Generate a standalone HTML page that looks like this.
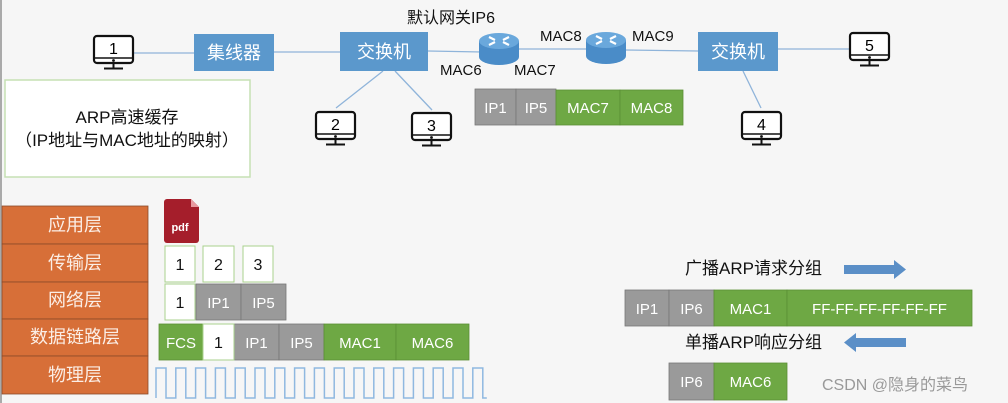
<!DOCTYPE html>
<html><head><meta charset="utf-8"><style>
html,body{margin:0;padding:0;background:#f6f6f6;}
svg{display:block;font-family:"Liberation Sans","Noto Sans CJK SC",sans-serif;}
</style></head><body>
<svg width="1008" height="403" viewBox="0 0 1008 403" xmlns="http://www.w3.org/2000/svg">
<defs>
<g id="pc">
  <rect x="0" y="0" width="39" height="27" rx="3" fill="#fff" stroke="#111" stroke-width="2.2"/>
  <line x1="1" y1="22" x2="38" y2="22" stroke="#111" stroke-width="1.5"/>
  <circle cx="19.5" cy="24.5" r="1.4" fill="#111"/>
  <line x1="19.5" y1="27" x2="19.5" y2="32" stroke="#111" stroke-width="2"/>
  <line x1="10" y1="32.5" x2="29" y2="32.5" stroke="#111" stroke-width="2"/>
</g>
<g id="router">
  <path d="M0 8 v16 a20 8 0 0 0 40 0 v-16 z" fill="#4a8cc8"/>
  <ellipse cx="20" cy="8" rx="20" ry="8" fill="#6aa8dc"/>
  <path d="M10 4 l6 3 M30 4 l-6 3 M10 12 l6 -3 M30 12 l-6 -3" stroke="#fff" stroke-width="2.2"/>
</g>
</defs>
<rect x="0" y="0" width="2" height="403" fill="#aaa"/>
<g stroke="#8fb4da" stroke-width="1.3">
<line x1="133" y1="53" x2="194" y2="53"/>
<line x1="274" y1="52" x2="340" y2="52"/>
<line x1="428" y1="51" x2="482" y2="52"/>
<line x1="518" y1="49" x2="588" y2="49"/>
<line x1="624" y1="50" x2="698" y2="51"/>
<line x1="778" y1="49" x2="851" y2="49"/>
<line x1="383" y1="71" x2="336" y2="108"/>
<line x1="395" y1="71" x2="432" y2="110"/>
<line x1="743" y1="71" x2="761" y2="108"/>
</g>
<g font-size="16" text-anchor="middle">
<use href="#pc" x="94" y="36"/><text x="113.5" y="54">1</text>
<use href="#pc" x="316" y="112"/><text x="335.5" y="130">2</text>
<use href="#pc" x="412" y="113"/><text x="431.5" y="131">3</text>
<use href="#pc" x="742" y="112"/><text x="761.5" y="130">4</text>
<use href="#pc" x="850" y="33"/><text x="869.5" y="51">5</text>
</g>
<g fill="#5b98cc">
<rect x="194" y="34" width="80" height="37"/>
<rect x="340" y="32" width="88" height="39"/>
<rect x="698" y="32" width="80" height="39"/>
</g>
<g fill="#fff" font-size="18" text-anchor="middle">
<text x="234" y="59">集线器</text>
<text x="384" y="58">交换机</text>
<text x="738" y="58">交换机</text>
</g>
<use href="#router" x="479" y="33"/>
<use href="#router" x="586" y="32"/>
<g font-size="15" fill="#111">
<text x="451" y="23" text-anchor="middle" font-size="16">默认网关IP6</text>
<text x="440" y="75">MAC6</text>
<text x="514" y="75">MAC7</text>
<text x="540" y="41">MAC8</text>
<text x="632" y="41">MAC9</text>
</g>
<g stroke="#777" stroke-width="0.8">
<rect x="475" y="89" width="41" height="36" fill="#9a9a9a"/>
<rect x="516" y="89" width="40" height="36" fill="#9a9a9a"/>
<rect x="556" y="90" width="64" height="35" fill="#6ea844" stroke="#5a8f35"/>
<rect x="620" y="90" width="63" height="35" fill="#6ea844" stroke="#5a8f35"/>
</g>
<g fill="#fff" font-size="15" text-anchor="middle">
<text x="495.5" y="113">IP1</text><text x="536" y="113">IP5</text>
<text x="588" y="113">MAC7</text><text x="651.5" y="113">MAC8</text>
</g>
<rect x="5" y="80" width="245" height="97" fill="#fff" stroke="#c5e0b4" stroke-width="1.5"/>
<g font-size="17" fill="#111" text-anchor="middle">
<text x="127" y="123">ARP高速缓存</text>
<text x="127" y="146">（IP地址与MAC地址的映射）</text>
</g>
<g fill="#d76f38" stroke="#8a4a2a" stroke-width="0.8">
<rect x="2" y="206" width="146" height="38"/>
<rect x="2" y="244" width="146" height="38"/>
<rect x="2" y="282" width="146" height="37"/>
<rect x="2" y="319" width="146" height="37"/>
<rect x="2" y="356" width="146" height="38"/>
</g>
<g fill="#fbeee6" font-size="18" text-anchor="middle">
<text x="75" y="231">应用层</text><text x="75" y="269">传输层</text>
<text x="75" y="306">网络层</text><text x="75" y="343">数据链路层</text>
<text x="75" y="381">物理层</text>
</g>
<path d="M167 199 h24 l8 8 v33 a3 3 0 0 1 -3 3 h-29 a3 3 0 0 1 -3 -3 v-38 a3 3 0 0 1 3 -3 z" fill="#a51e2b"/>
<path d="M191 199 v8 h8 z" fill="#e89aa0"/>
<text x="180" y="231" fill="#fff" font-size="11" font-weight="bold" text-anchor="middle">pdf</text>
<g fill="#fff" stroke="#a9d18e" stroke-width="1">
<rect x="165" y="246" width="30" height="36"/>
<rect x="203" y="246" width="31" height="36"/>
<rect x="243" y="246" width="30" height="36"/>
<rect x="165" y="284" width="30" height="36"/>
</g>
<g font-size="16" fill="#111" text-anchor="middle">
<text x="180" y="270">1</text><text x="218.5" y="270">2</text><text x="258" y="270">3</text>
<text x="180" y="308">1</text>
</g>
<g fill="#9a9a9a" stroke="#777" stroke-width="0.8">
<rect x="196" y="284" width="45" height="36"/><rect x="241" y="284" width="45" height="36"/>
<rect x="234" y="324" width="45" height="36"/><rect x="279" y="324" width="45" height="36"/>
<rect x="625" y="290" width="44" height="36"/><rect x="669" y="290" width="45" height="36"/>
<rect x="669" y="363" width="45" height="37"/>
</g>
<g fill="#6ea844" stroke="#5a8f35" stroke-width="0.8">
<rect x="159" y="324" width="44" height="36"/>
<rect x="324" y="324" width="72" height="36"/><rect x="396" y="324" width="73" height="36"/>
<rect x="714" y="290" width="73" height="36"/><rect x="787" y="290" width="185" height="36"/>
<rect x="714" y="363" width="73" height="37"/>
</g>
<rect x="203" y="324" width="31" height="36" fill="#fff" stroke="#a9d18e"/>
<text x="218.5" y="348" font-size="16" fill="#111" text-anchor="middle">1</text>
<g fill="#fff" font-size="15" text-anchor="middle">
<text x="218.5" y="308">IP1</text><text x="263.5" y="308">IP5</text>
<text x="181" y="348">FCS</text><text x="256.5" y="348">IP1</text><text x="301.5" y="348">IP5</text>
<text x="360" y="348">MAC1</text><text x="432.5" y="348">MAC6</text>
<text x="647" y="314">IP1</text><text x="691.5" y="314">IP6</text>
<text x="750.5" y="314">MAC1</text><text x="879.5" y="314">FF-FF-FF-FF-FF-FF</text>
<text x="691.5" y="387">IP6</text><text x="750.5" y="387">MAC6</text>
</g>
<path d="M156 398 v-30 h10 v30 h9.8 v-30 h10 v30 h9.8 v-30 h10 v30 h9.8 v-30 h10 v30 h9.8 v-30 h10 v30 h9.8 v-30 h10 v30 h9.8 v-30 h10 v30 h9.8 v-30 h10 v30 h9.8 v-30 h10 v30 h9.8 v-30 h10 v30 h9.8 v-30 h10 v30 h9.8 v-30 h10 v30 h9.8 v-30 h10 v30 h9.8 v-30 h10 v30 h9.8 v-30 h10 v30 h9.8 v-30 h10 v30 h9.8 v-30 h10 v30 h4" fill="none" stroke="#8fb8e0" stroke-width="1.5"/>
<g font-size="17" fill="#111">
<text x="685" y="274">广播ARP请求分组</text>
<text x="685" y="348">单播ARP响应分组</text>
</g>
<path d="M844 265 h50 v-5 l12 9.5 l-12 9.5 v-5 h-50 z" fill="#5b8fc7"/>
<path d="M906 338 h-50 v-5 l-12 9.5 l12 9.5 v-5 h50 z" fill="#5b8fc7"/>
<text x="822" y="390" font-size="16" fill="#999">CSDN @隐身的菜鸟</text>
</svg>
</body></html>
